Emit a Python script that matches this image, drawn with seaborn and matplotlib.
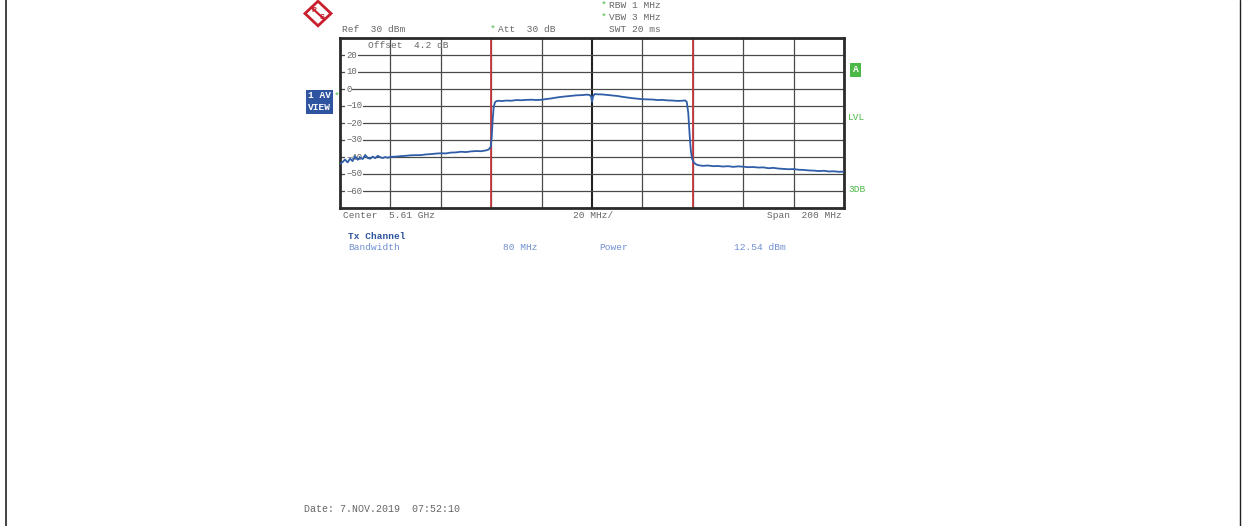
import numpy as np
import pandas as pd
import matplotlib
matplotlib.use("Agg")
import matplotlib.pyplot as plt
from matplotlib.patches import Polygon
import seaborn as sns

# Frequency offsets from centre (MHz) and trace level (dBm)
offset_mhz = [
    -100, -99, -98, -97, -96, -95, -94, -93, -92, -91, -90, -89, -88, -87, -86,
    -85, -84, -83, -82, -81, -80, -78, -76, -74, -72, -70, -68, -66, -64, -62,
    -60, -58, -56, -54, -52, -50, -48, -46, -44, -42, -41, -40.2, -39.8, -39.4,
    -39, -38.5, -38, -37, -36, -34, -32, -30, -28, -26, -24, -22, -20, -18, -16,
    -14, -12, -10, -8, -6, -4, -2, -1, -0.3, 0, 0.4, 1, 2, 4, 6, 8, 10, 12, 14,
    16, 18, 20, 22, 24, 26, 28, 30, 32, 34, 36, 37, 37.6, 38.2, 38.7, 39.2, 39.7,
    40.5, 41.5, 42.5, 44, 46, 48, 50, 52, 54, 56, 58, 60, 62, 64, 66, 68, 70, 72,
    74, 76, 78, 80, 82, 84, 86, 88, 90, 92, 94, 96, 98, 100,
]
level_dbm = [
    -44.0, -43.0, -41.5, -43.2, -41.0, -42.4, -39.6, -41.6, -40.3, -41.2, -38.8,
    -40.6, -41.0, -39.8, -40.7, -39.3, -40.2, -40.6, -40.0, -40.5, -39.9, -39.8,
    -39.5, -39.3, -39.0, -38.9, -38.9, -38.5, -38.3, -38.0, -37.8, -37.9, -37.4,
    -37.3, -36.9, -37.1, -36.7, -36.5, -36.6, -36.1, -35.6, -34.0, -28.0, -18.0,
    -10.5, -7.8, -7.2, -6.9, -7.1, -6.8, -6.9, -6.5, -6.6, -6.4, -6.3, -6.5,
    -6.3, -5.9, -5.5, -5.0, -4.6, -4.3, -4.0, -3.7, -3.6, -3.3, -3.5, -4.5, -7.5,
    -4.5, -3.0, -3.1, -3.2, -3.5, -3.8, -4.1, -4.6, -5.0, -5.4, -5.7, -6.0, -6.1,
    -6.2, -6.5, -6.4, -6.7, -6.8, -7.0, -6.9, -6.7, -7.6, -14.0, -26.0, -36.0,
    -41.0, -43.4, -44.5, -44.9, -45.2, -45.0, -45.4, -45.3, -45.6, -45.4, -45.8,
    -45.5, -45.7, -46.0, -45.9, -46.2, -46.1, -46.6, -46.4, -46.8, -47.0, -47.2,
    -47.1, -47.5, -47.6, -47.9, -48.0, -48.3, -48.1, -48.5, -48.4, -48.7, -48.6,
]

y_ticks = [20, 10, 0, -10, -20, -30, -40, -50, -60]
channel_edges = [-40, 40]

W, H = 1244, 526
TRACE = "#2f5da8"
GREEN = "#4cb848"
GRAY = "#666666"
MONO = ["Liberation Mono", "DejaVu Sans Mono"]

sns.set_theme(style="white")
plt.rcParams["font.family"] = MONO

fig = plt.figure(figsize=(W / 100, H / 100), dpi=100)
fig.patch.set_facecolor("white")


def box(x0, y0, w, h):
    return [x0 / W, 1 - (y0 + h) / H, w / W, h / H]


def ftxt(x, y, s, **kw):
    kw.setdefault("fontsize", 6.8)
    kw.setdefault("color", GRAY)
    kw.setdefault("va", "center")
    fig.text(x / W, 1 - y / H, s, **kw)


# page border lines
fig.add_artist(plt.Line2D([6 / W, 6 / W], [0, 1], color="#222222", lw=1.2))
fig.add_artist(plt.Line2D([1240 / W, 1240 / W], [0, 1], color="#222222", lw=1.0))

# main trace axes
ax = fig.add_axes(box(340, 38, 504, 170))
df = pd.DataFrame({"offset": offset_mhz, "level": level_dbm})
ax.set_xlim(-100, 100)
ax.set_ylim(-70, 30)
for v in range(-80, 100, 20):
    ax.axvline(v, color="#222222" if v == 0 else "#4a4a4a", lw=1.5 if v == 0 else 0.9, zorder=1)
for t in y_ticks + [30, -70]:
    ax.axhline(t, color="#4a4a4a", lw=0.9, zorder=1)
for e in channel_edges:
    ax.axvline(e, color="#c8373f", lw=1.3, zorder=2)
for t in y_ticks:
    lab = str(t) if t >= 0 else "\u2212" + str(-t)
    ax.text(-97.5, t, lab, fontsize=6.5, color=GRAY, va="center", ha="left", zorder=2.5,
            bbox=dict(facecolor="white", edgecolor="none", pad=0.6))
sns.lineplot(data=df, x="offset", y="level", ax=ax, color=TRACE, lw=1.3, zorder=3)
ax.set_xticks([])
ax.set_yticks([])
ax.set_xlabel("")
ax.set_ylabel("")
for s in ax.spines.values():
    s.set_color("#2a2a2a")
    s.set_linewidth(2.0)
ax.text(-89, 25.3, "Offset  4.2 dB", fontsize=6.8, color=GRAY, va="center", ha="left", zorder=4)

# header texts
ftxt(342, 29, "Ref  30 dBm")
ftxt(490, 29, "*", color=GREEN)
ftxt(498, 29, "Att  30 dB")
ftxt(609, 29, "SWT 20 ms")
ftxt(601, 5, "*", color=GREEN)
ftxt(609, 5, "RBW 1 MHz")
ftxt(601, 17, "*", color=GREEN)
ftxt(609, 17, "VBW 3 MHz")

# trace labels on the left
ftxt(308, 96, "1 AV", color="white", fontweight="bold",
     bbox=dict(facecolor="#2f55a0", edgecolor="none", pad=1.2))
ftxt(308, 108, "VIEW", color="white", fontweight="bold",
     bbox=dict(facecolor="#2f55a0", edgecolor="none", pad=1.2))
ftxt(334, 96, "*", color=GREEN)

# right side indicators
ftxt(853, 70, "A", color="white", fontweight="bold",
     bbox=dict(facecolor=GREEN, edgecolor="none", pad=2.0))
ftxt(848, 118, "LVL", color=GREEN)
ftxt(848, 190, "3DB", color=GREEN)

# bottom axis annotations
ftxt(343, 216, "Center  5.61 GHz")
ftxt(593, 216, "20 MHz/", ha="center")
ftxt(842, 216, "Span  200 MHz", ha="right")

# channel power table
ftxt(348, 236, "Tx Channel", color="#2f55a0", fontweight="bold")
ftxt(348, 248, "Bandwidth", color="#6f8fd0")
ftxt(503, 248, "80 MHz", color="#6f8fd0")
ftxt(599, 248, "Power", color="#6f8fd0")
ftxt(734, 248, "12.54 dBm", color="#6f8fd0")

ftxt(304, 509, "Date: 7.NOV.2019  07:52:10", fontsize=7.2)

# R&S logo
lg = fig.add_axes(box(303, 0, 30, 27))
lg.set_xlim(-1.15, 1.15)
lg.set_ylim(-1.1, 1.1)
lg.axis("off")
lg.add_patch(Polygon([[0, 1], [1, 0], [0, -1], [-1, 0]], closed=True,
                     facecolor="white", edgecolor="#c8202f", lw=2.0, clip_on=False))
lg.plot([-0.5, 0.5], [0.5, -0.5], color="#c8202f", lw=1.6, clip_on=False)
lg.text(-0.32, 0.25, "R", color="#c8202f", fontsize=6, ha="center", va="center", fontweight="bold")
lg.text(0.3, -0.3, "S", color="#c8202f", fontsize=6, ha="center", va="center", fontweight="bold")

fig.savefig("out.png", dpi=100, facecolor="white")
